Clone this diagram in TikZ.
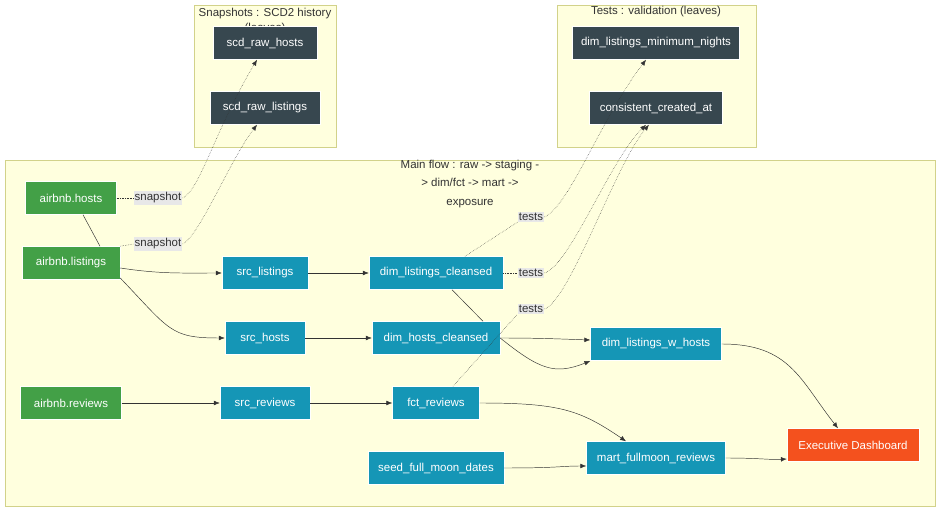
\documentclass[tikz,border=0pt]{standalone}
\usepackage{fontspec}
\setmainfont{Liberation Sans}
\usetikzlibrary{arrows.meta}
\definecolor{raw}{HTML}{43A047}
\definecolor{stg}{HTML}{1596B6}
\definecolor{leaf}{HTML}{37474F}
\definecolor{expo}{HTML}{F4511E}
\definecolor{clfill}{HTML}{FFFFDE}
\definecolor{clline}{HTML}{D2D28A}
\definecolor{lblbg}{HTML}{E8E8E8}
\definecolor{ink}{HTML}{333333}
\tikzset{
  box/.style={draw=white, minimum height=0.99cm, text=white, inner sep=0pt},
  cluster/.style={fill=clfill, draw=clline, thick},
  flow/.style={-{Latex[length=5pt,width=4pt]}, ink, thin},
  link/.style={ink, thin},
  dep/.style={densely dotted, ink, thin},
  deparrow/.style={dep, -{Latex[length=5pt,width=4pt]}},
  lbl/.style={fill=lblbg, inner sep=1pt, text=ink}
}
\begin{document}
\begin{tikzpicture}[x=0.03cm, y=-0.03cm,
                    every node/.style={font=\fontsize{9.8}{13}\selectfont}]
  \useasboundingbox (0,0) rectangle (940,512);
  % clusters
  \draw[cluster] (194,5) rectangle (336,147);
  \draw[cluster] (557,5) rectangle (756,147);
  \draw[cluster] (5,160) rectangle (935,506);
  \node[text=ink, align=center] (snaptitle) at (265,21) {Snapshots : SCD2 history\\(leaves)};
  \node[text=ink] (testtitle) at (656,12) {Tests : validation (leaves)};
  \node[text=ink, align=center, font=\fontsize{9.8}{15.5}\selectfont] (maintitle) at (470,184)
    {Main flow : raw -> staging -\\> dim/fct -> mart ->\\exposure};
  % leaves
  \node[box, fill=leaf, minimum width=3.12cm] (scdhosts) at (265,43) {scd\_raw\_hosts};
  \node[box, fill=leaf, minimum width=3.30cm] (scdlistings) at (265,108) {scd\_raw\_listings};
  \node[box, fill=leaf, minimum width=5.01cm] (minnights) at (656,43) {dim\_listings\_minimum\_nights};
  \node[box, fill=leaf, minimum width=3.99cm] (consistent) at (656,108) {consistent\_created\_at};
  % raw
  \node[box, fill=raw, minimum width=2.73cm] (hosts) at (71,198) {airbnb.hosts};
  \node[box, fill=raw, minimum width=2.94cm] (listings) at (71,263) {airbnb.listings};
  \node[box, fill=raw, minimum width=3.03cm] (reviews) at (71,403) {airbnb.reviews};
  % staging
  \node[box, fill=stg, minimum width=2.58cm] (srclistings) at (265,273) {src\_listings};
  \node[box, fill=stg, minimum width=2.40cm] (srchosts) at (265,338) {src\_hosts};
  \node[box, fill=stg, minimum width=2.70cm] (srcreviews) at (265,403) {src\_reviews};
  % dim / fct
  \node[box, fill=stg, minimum width=4.02cm] (dimlistings) at (436,273) {dim\_listings\_cleansed};
  \node[box, fill=stg, minimum width=3.84cm] (dimhosts) at (436,338) {dim\_hosts\_cleansed};
  \node[box, fill=stg, minimum width=2.61cm] (fctreviews) at (436,403) {fct\_reviews};
  \node[box, fill=stg, minimum width=4.08cm] (seed) at (436,468) {seed\_full\_moon\_dates};
  \node[box, fill=stg, minimum width=3.93cm] (dimwhosts) at (656,344) {dim\_listings\_w\_hosts};
  \node[box, fill=stg, minimum width=4.17cm] (mart) at (656,458) {mart\_fullmoon\_reviews};
  \node[box, fill=expo, minimum width=3.96cm] (dash) at (853,445) {Executive Dashboard};
  % edge labels
  \node[lbl] (snap1) at (158,198) {snapshot};
  \node[lbl] (snap2) at (158,244) {snapshot};
  \node[lbl] (test1) at (531,217) {tests};
  \node[lbl] (test2) at (531,273) {tests};
  \node[lbl] (test3) at (531,309) {tests};
  % snapshots
  \draw[dep] (hosts) -- (snap1);
  \draw[deparrow] (snap1.east) .. controls (200,190) and (215,130) .. (scdhosts.south -| 257,0);
  \draw[dep] (listings.north east) -- (snap2.west);
  \draw[deparrow] (snap2.east) .. controls (200,235) and (230,160) .. (scdlistings.south -| 257,0);
  % tests
  \draw[dep] (dimlistings.north -| 465,0) -- (test1.south west);
  \draw[deparrow] (test1.east) .. controls (570,205) and (600,120) .. (minnights.south -| 646,0);
  \draw[dep] (dimlistings) -- (test2);
  \draw[deparrow] (test2.east) .. controls (570,265) and (610,160) .. (consistent.south -| 646,0);
  \draw[dep] (fctreviews.north -| 453,0) -- (test3.south west);
  \draw[deparrow] (test3.east) .. controls (570,300) and (615,165) .. (consistent.south -| 649,0);
  % main flow
  \draw[link] (hosts.south -| 83,0) -- (listings.north -| 100,0);
  \draw[flow] (listings.east |- 0,268) .. controls (160,274) and (180,273) .. (srclistings);
  \draw[flow] (listings.east |- 0,278) .. controls (170,330) and (170,338) .. (srchosts);
  \draw[flow] (reviews) -- (srcreviews);
  \draw[flow] (srclistings) -- (dimlistings);
  \draw[flow] (srchosts) -- (dimhosts);
  \draw[flow] (srcreviews) -- (fctreviews);
  \draw[link] (dimlistings.south -| 452,0) -- (dimhosts.north -| 483,0);
  \draw[flow] (dimhosts.east) .. controls (540,338) and (560,339) .. (dimwhosts.west |- 0,340);
  \draw[flow] (dimhosts.east) .. controls (540,370) and (555,375) .. (dimwhosts.west |- 0,361);
  \draw[flow] (dimwhosts.east) .. controls (790,344) and (800,380) .. (dash.north -| 838,0);
  \draw[flow] (fctreviews.east) .. controls (560,403) and (580,410) .. (mart.north -| 626,0);
  \draw[flow] (seed.east) .. controls (560,468) and (560,466) .. (mart.west |- 0,466);
  \draw[flow] (mart.east) .. controls (760,458) and (770,460) .. (dash.west |- 0,459);
\end{tikzpicture}
\end{document}
